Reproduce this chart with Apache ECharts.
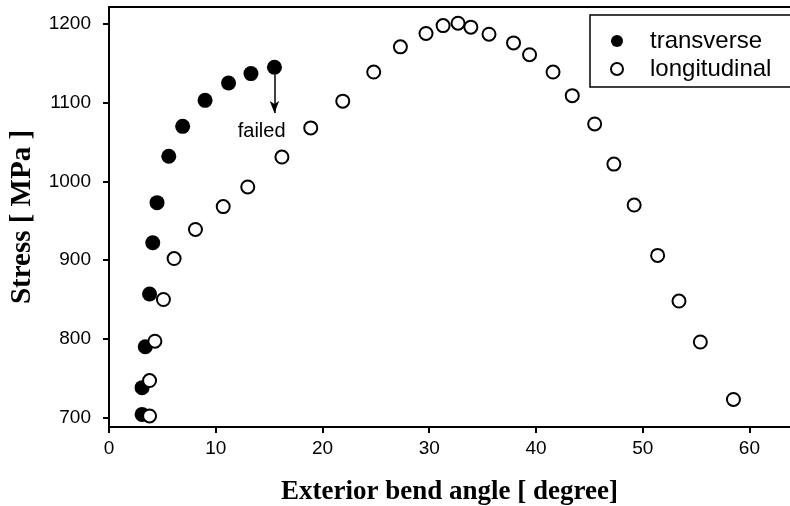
<!DOCTYPE html>
<html>
<head>
<meta charset="utf-8">
<script src="https://cdn.jsdelivr.net/npm/echarts@6/dist/echarts.min.js"></script>
<style>
    html, body { margin: 0; padding: 0; background: #fff; }
    #chart { width: 790px; height: 506px; }
</style>
</head>
<body>
<div id="chart"></div>
<script>
// bend angle [degree] and stress [MPa]
var transverseAngle = [3.1, 3.1, 3.4, 3.8, 4.1, 4.5, 5.6, 6.9, 9.0, 11.2, 13.3, 15.5];
var transverseStress = [704, 738, 790, 857, 922, 973, 1032, 1070, 1103, 1125, 1137, 1145];

var longAngle = [3.8, 3.8, 4.3, 5.1, 6.1, 8.1, 10.7, 13.0, 16.2, 18.9, 21.9, 24.8, 27.3, 29.7,
    31.3, 32.7, 33.9, 35.6, 37.9, 39.4, 41.6, 43.4, 45.5, 47.3, 49.2, 51.4, 53.4, 55.4, 58.5];
var longStress = [702, 747, 797, 850, 902, 939, 968, 993, 1031, 1068, 1102, 1139, 1171, 1188,
    1198, 1201, 1196, 1187, 1176, 1161, 1139, 1109, 1073, 1022, 970, 906, 848, 796, 723];

var xTicks = [0, 10, 20, 30, 40, 50, 60];
var yTicks = [700, 800, 900, 1000, 1100, 1200];

// failed marker: arrow from the last transverse point
var failedAt = [15.5, 1136, 1087];
var failedLabel = [14.3, 1064];

function pairs (xs, ys) {
    var out = [];
    for (var i = 0; i < xs.length; i++) {
        out.push([xs[i], ys[i]]);
    }
    return out;
}

var myChart = echarts.init(document.getElementById('chart'));
var tickFont = {
    color: '#000',
    fontFamily: 'Liberation Sans',
    fontSize: 19,
    formatter: function (v) {
        return String(v);
    }
};

myChart.setOption({
    animation: false,
    grid: {
        left: 109,
        right: 0,
        top: 7,
        bottom: 79,
        containLabel: false,
        outerBoundsMode: 'none'
    },
    legend: {
        orient: 'vertical',
        left: 590,
        top: 15,
        padding: [14, 40, 6, 20],
        itemGap: 4,
        itemWidth: 12,
        itemHeight: 12,
        borderColor: '#000',
        borderWidth: 1.5,
        borderRadius: 0,
        textStyle: {
            color: '#000',
            fontFamily: 'Liberation Sans',
            fontSize: 24,
            lineHeight: 22,
            padding: [0, 0, 0, 22]
        },
        data: ['transverse', 'longitudinal']
    },
    xAxis: [{
        type: 'value',
        min: 0,
        max: 63.8,
        interval: 10,
        name: 'Exterior bend angle [ degree]',
        nameLocation: 'middle',
        nameGap: 52,
        nameMoveOverlap: false,
        nameTextStyle: {
            color: '#000',
            fontFamily: 'Liberation Serif',
            fontWeight: 'bold',
            fontSize: 27
        },
        axisLine: {
            onZero: false,
            lineStyle: { color: '#000', width: 2 }
        },
        axisTick: {
            inside: false,
            length: 6,
            lineStyle: { color: '#000', width: 2 },
            customValues: xTicks
        },
        axisLabel: Object.assign({
            margin: 12,
            customValues: xTicks
        }, tickFont),
        splitLine: { show: false }
    }, {
        type: 'value',
        position: 'top',
        min: 0,
        max: 63.8,
        axisLine: {
            onZero: false,
            lineStyle: { color: '#000', width: 2 }
        },
        axisTick: { show: false },
        axisLabel: { show: false },
        splitLine: { show: false }
    }],
    yAxis: {
        type: 'value',
        min: 688,
        max: 1221.6,
        name: 'Stress [ MPa ]',
        nameLocation: 'middle',
        nameGap: 72,
        nameMoveOverlap: false,
        nameTextStyle: {
            color: '#000',
            fontFamily: 'Liberation Serif',
            fontWeight: 'bold',
            fontSize: 29
        },
        axisLine: {
            show: true,
            onZero: false,
            lineStyle: { color: '#000', width: 2 }
        },
        axisTick: {
            show: true,
            inside: false,
            length: 6,
            lineStyle: { color: '#000', width: 2 },
            customValues: yTicks
        },
        axisLabel: Object.assign({
            margin: 18,
            customValues: yTicks
        }, tickFont),
        splitLine: { show: false }
    },
    series: [{
        name: 'transverse',
        type: 'scatter',
        symbol: 'circle',
        symbolSize: 15,
        itemStyle: {
            color: '#000',
            opacity: 1
        },
        data: pairs(transverseAngle, transverseStress),
        markLine: {
            silent: true,
            symbol: ['none', 'arrow'],
            symbolSize: [7, 12],
            label: { show: false },
            lineStyle: { color: '#000', width: 1.5, type: 'solid' },
            data: [[
                { coord: [failedAt[0], failedAt[1]] },
                { coord: [failedAt[0], failedAt[2]] }
            ]]
        },
        markPoint: {
            silent: true,
            symbol: 'circle',
            symbolSize: 0,
            label: {
                show: true,
                position: 'inside',
                formatter: 'failed',
                color: '#000',
                fontFamily: 'Liberation Sans',
                fontSize: 20
            },
            data: [{ coord: failedLabel }]
        }
    }, {
        name: 'longitudinal',
        type: 'scatter',
        symbol: 'circle',
        symbolSize: 13,
        itemStyle: {
            color: '#fff',
            borderColor: '#000',
            borderWidth: 2,
            opacity: 1
        },
        data: pairs(longAngle, longStress)
    }]
});
</script>
</body>
</html>
